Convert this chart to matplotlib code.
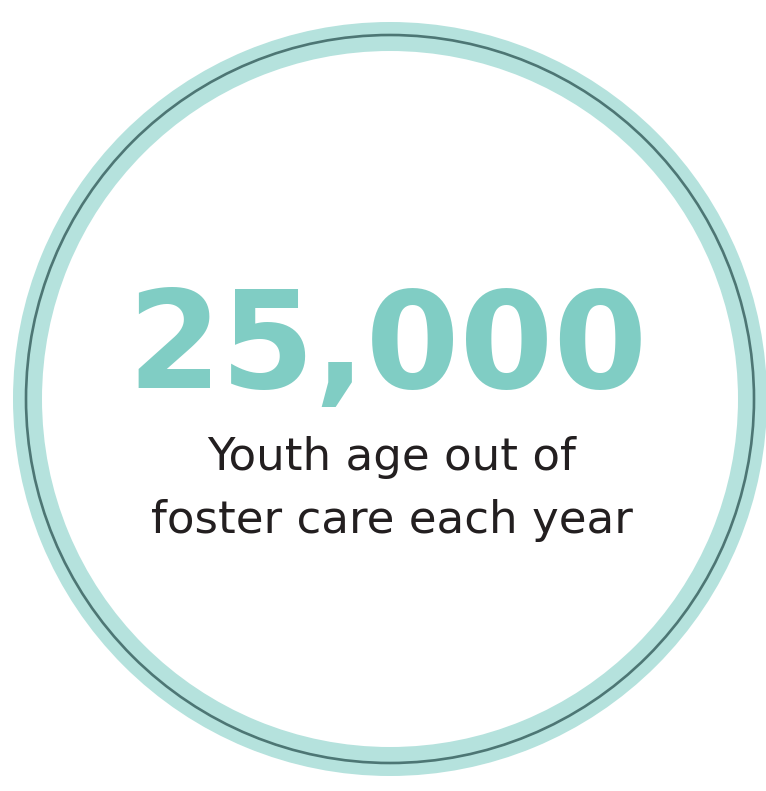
import matplotlib
matplotlib.use("Agg")
import matplotlib.pyplot as plt
from matplotlib.patches import Wedge, Circle

# Data / text content
stat_value = "25,000"
label_lines = ["Youth age out of", "foster care each year"]

W, H = 766, 791
fig = plt.figure(figsize=(W / 100, H / 100), dpi=100)
ax = fig.add_axes([0, 0, 1, 1])
ax.set_xlim(0, W)
ax.set_ylim(H, 0)
ax.set_aspect("equal")
ax.axis("off")

cx, cy = 390, 399
r_out = 377
ring_w = 29
ax.add_patch(Wedge((cx, cy), r_out, 0, 360, width=ring_w, facecolor="#b5e2dd", edgecolor="none"))
ax.add_patch(Circle((cx, cy), 364, facecolor="none", edgecolor="#4d7674", linewidth=1.9))

ax.text(388, 388, stat_value, ha="center", va="baseline", fontsize=97,
        family="DejaVu Sans", fontweight="bold", color="#80cdc4")

ax.text(392, 470, label_lines[0], ha="center", va="baseline", fontsize=32.5,
        family="DejaVu Sans", color="#231f20")
ax.text(392, 533, label_lines[1], ha="center", va="baseline", fontsize=32.5,
        family="DejaVu Sans", color="#231f20")

fig.savefig("out.png", dpi=100)
